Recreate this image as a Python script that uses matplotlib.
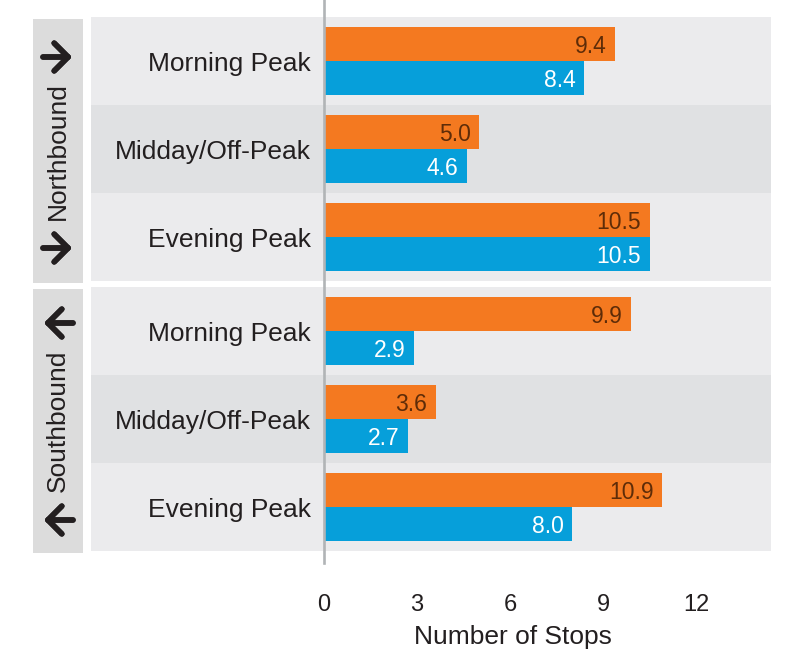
import numpy as np
import matplotlib
matplotlib.use("Agg")
import matplotlib.pyplot as plt
from matplotlib.patches import Rectangle
from matplotlib.lines import Line2D

plt.rcParams['font.family'] = ['Liberation Sans', 'DejaVu Sans']

# 数据
periods = ["Morning Peak", "Midday/Off-Peak", "Evening Peak"]
directions = ["Northbound", "Southbound"]
orange_nb = [9.4, 5.0, 10.5]
blue_nb = [8.4, 4.6, 10.5]
orange_sb = [9.9, 3.6, 10.9]
blue_sb = [2.9, 2.7, 8.0]
xticks = [0, 3, 6, 9, 12]

ORANGE = "#F47920"
BLUE = "#069FDA"
BAND_LIGHT = "#EBEBED"
BAND_DARK = "#E0E1E3"
STRIP = "#DCDCDC"
TXT = "#231F20"

W, H = 800, 655
fig = plt.figure(figsize=(W / 100, H / 100), dpi=100)

# 像素 -> 图坐标
def fx(px):
    return px / W

def fy(py):
    return 1 - py / H

ppu = 31.0  # 每单位像素
x_left = -(324 - 91) / ppu
x_right = (771 - 324) / ppu
bar_h = 0.386


def draw_group(top_px, bot_px, orange, blue, last):
    ax = fig.add_axes([fx(91), fy(bot_px), fx(771) - fx(91), fy(top_px) - fy(bot_px)])
    ax.set_xlim(x_left, x_right)
    ax.set_ylim(2.5, -0.5)
    for i in range(3):
        ax.axhspan(i - 0.5, i + 0.5, color=BAND_DARK if i == 1 else BAND_LIGHT, lw=0, zorder=0)
    y = np.arange(3)
    ax.barh(y - bar_h / 2, orange, height=bar_h, color=ORANGE, zorder=2)
    ax.barh(y + bar_h / 2, blue, height=bar_h, color=BLUE, zorder=2)
    for i in range(3):
        ax.annotate("%.1f" % orange[i], (orange[i], y[i] - bar_h / 2), xytext=(-6, -1.5),
                    textcoords="offset points", ha="right", va="center",
                    fontsize=16.5, color="#5E2C08", zorder=3)
        ax.annotate("%.1f" % blue[i], (blue[i], y[i] + bar_h / 2), xytext=(-6, -1.5),
                    textcoords="offset points", ha="right", va="center",
                    fontsize=16.5, color="white", zorder=3)
        ax.annotate(periods[i], (-0.42, y[i]), xytext=(0, -2.5), textcoords="offset points",
                    ha="right", va="center", fontsize=19, color=TXT)
    for s in ax.spines.values():
        s.set_visible(False)
    ax.set_yticks([])
    if last:
        ax.set_xticks(xticks)
        ax.set_xticklabels([str(t) for t in xticks])
        ax.tick_params(axis="x", length=0, pad=31, labelsize=17, labelcolor=TXT)
    else:
        ax.set_xticks([])
    return ax


ax_n = draw_group(17, 281, orange_nb, blue_nb, False)
ax_s = draw_group(287, 551, orange_sb, blue_sb, True)

# 左侧方向标签
for (top, bot), name, arrow_y, right in [((19, 283), directions[0], (57, 248), True),
                                         ((289, 553), directions[1], (323, 520), False)]:
    fig.add_artist(Rectangle((fx(33), fy(bot)), fx(83) - fx(33), fy(top) - fy(bot),
                             transform=fig.transFigure, color=STRIP, lw=0, zorder=0))
    fig.text(fx(58), fy((top + bot) / 2), name, rotation=90, ha="center", va="center",
             fontsize=19, color=TXT)
    for ay in arrow_y:
        x0, x1 = (43, 72) if right else (73, 44)
        fig.add_artist(plt.annotate("", xy=(fx(x1), fy(ay)), xytext=(fx(x0), fy(ay)),
                                    xycoords=fig.transFigure, textcoords=fig.transFigure,
                                    arrowprops=dict(arrowstyle="->,head_length=0.5,head_width=0.5",
                                                    lw=4, color=TXT, mutation_scale=20,
                                                    shrinkA=0, shrinkB=0)))

# 零线
fig.add_artist(Line2D([fx(324), fx(324)], [fy(0), fy(563)], color="#B1B4B6", lw=1.9, zorder=5))

fig.text(fx(513), fy(637), "Number of Stops", ha="center", va="center", fontsize=19, color=TXT)

plt.savefig("out.png", dpi=100)
